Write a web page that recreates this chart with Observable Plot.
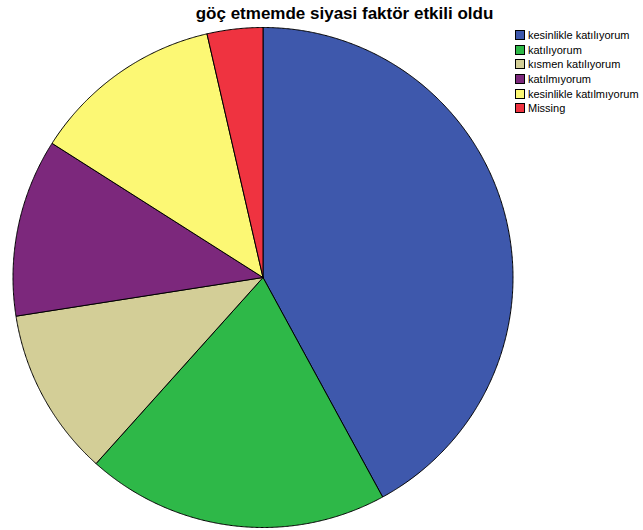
<!DOCTYPE html>
<html>
<head>
<meta charset="utf-8">
<script src="https://cdn.jsdelivr.net/npm/d3@7"></script>
<script src="https://cdn.jsdelivr.net/npm/@observablehq/plot@0.6"></script>
<style>
  html, body { margin: 0; padding: 0; background: #fff; }
  #wrap { position: relative; width: 643px; height: 530px; overflow: hidden; font-family: Arial, "Liberation Sans", sans-serif; }
  #title { position: absolute; left: 0; width: 689px; top: 5px; line-height: 1; text-align: center; font-weight: bold; font-size: 17px; color: #000; }
  #legend { position: absolute; left: 515px; top: 28px; font-size: 11px; color: #000; }
  .item { display: flex; align-items: center; height: 14.6px; white-space: nowrap; }
  .sw { width: 10px; height: 10px; border: 1px solid #000; margin-right: 3px; box-sizing: border-box; }
</style>
</head>
<body>
<div id="wrap">
  <div id="title"></div>
  <div id="legend"></div>
</div>
<script>
const categories = ["kesinlikle katılıyorum", "katılıyorum", "kısmen katılıyorum", "katılmıyorum", "kesinlikle katılmıyorum", "Missing"];
const values = [42.1, 19.6, 10.9, 11.5, 12.4, 3.6];
const colors = ["#3E58AC", "#2EB848", "#D3CE97", "#7C287C", "#FCF874", "#EF3340"];
const chartTitle = "göç etmemde siyasi faktör etkili oldu";

const arcs = d3.pie().sort(null).value(d => d.value)(categories.map((c, i) => ({category: c, value: values[i]})));
const pts = [];
for (const a of arcs) {
  const c = a.data.category;
  pts.push({category: c, x: 0, y: 0});
  const n = Math.max(2, Math.ceil((a.endAngle - a.startAngle) / 0.005));
  for (let k = 0; k <= n; k++) {
    const t = a.startAngle + (a.endAngle - a.startAngle) * k / n;
    pts.push({category: c, x: Math.sin(t), y: Math.cos(t)});
  }
  pts.push({category: c, x: 0, y: 0});
}

const chart = Plot.plot({
  width: 643,
  height: 530,
  marginLeft: 12.5,
  marginRight: 130.5,
  marginTop: 27,
  marginBottom: 3,
  x: {domain: [-1, 1], axis: null},
  y: {domain: [-1, 1], axis: null},
  color: {domain: categories, range: colors},
  style: {background: "transparent"},
  marks: [
    Plot.line(pts, {x: "x", y: "y", z: "category", fill: "category", stroke: "#000", strokeWidth: 1, strokeLinejoin: "round"})
  ]
});
chart.style.position = "absolute";
chart.style.left = "0";
chart.style.top = "0";
document.getElementById("wrap").prepend(chart);
document.getElementById("title").textContent = chartTitle;

const legend = document.getElementById("legend");
categories.forEach((c, i) => {
  const row = document.createElement("div");
  row.className = "item";
  const sw = document.createElement("div");
  sw.className = "sw";
  sw.style.background = colors[i];
  const tx = document.createElement("span");
  tx.textContent = c;
  row.append(sw, tx);
  legend.append(row);
});
</script>
</body>
</html>
